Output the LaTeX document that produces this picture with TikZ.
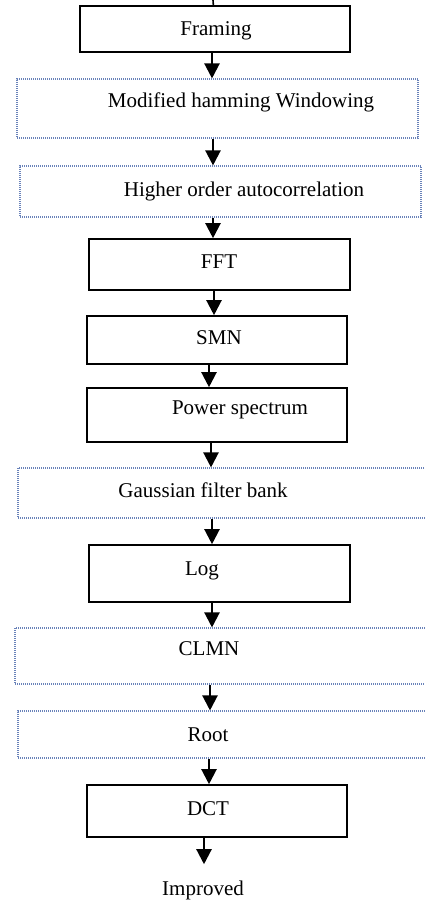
\documentclass[tikz,border=0pt]{standalone}
\usepackage{fontspec}
\setmainfont{Liberation Serif}
\usetikzlibrary{arrows.meta}
\usetikzlibrary{positioning}
\definecolor{dotblue}{RGB}{105,130,185}
\tikzstyle{block}=[draw,line width=1.6pt,inner sep=0pt]
\tikzstyle{dotblock}=[draw=dotblue,dash pattern=on 1pt off 1pt,line width=1.1pt,inner sep=0pt]
\tikzstyle{lbl}=[anchor=base,inner sep=0pt,font=\fontsize{21}{25}\selectfont]
\tikzstyle{arr}=[line width=2.2pt,-{Triangle[width=15pt,length=15pt]}]

\begin{document}
\begin{tikzpicture}[x=1pt,y=-1pt]
\useasboundingbox (0,0) rectangle (425,900);

% boxes of the chain
\node [block,minimum width=270pt,minimum height=46pt] (frm) at (215,29) {};
\node [dotblock,minimum width=401pt,minimum height=59pt] (ham) at (217.5,108.5) {};
\node [dotblock,minimum width=401pt,minimum height=51pt] (hoa) at (220.5,191.5) {};
\node [block,minimum width=261pt,minimum height=51pt] (fft) at (219.5,264.5) {};
\node [block,minimum width=260pt,minimum height=48pt] (smn) at (217,340) {};
\node [block,minimum width=260pt,minimum height=54pt] (pow) at (217,415) {};
\node [dotblock,minimum width=412pt,minimum height=50pt] (gfb) at (224,493) {};
\node [block,minimum width=261pt,minimum height=57pt] (log) at (219.5,573.5) {};
\node [dotblock,minimum width=415pt,minimum height=56pt] (clmn) at (222.5,656) {};
\node [dotblock,minimum width=412pt,minimum height=47pt] (root) at (224,734.5) {};
\node [block,minimum width=260pt,minimum height=52pt] (dct) at (217,811) {};

% texts
\node [lbl] (frm-t) at (216,35) {Framing};
\node [lbl] (ham-t) at (241,107) {Modified hamming Windowing};
\node [lbl] (hoa-t) at (244,196) {Higher order autocorrelation};
\node [lbl] (fft-t) at (219,268) {FFT};
\node [lbl] (smn-t) at (219,344) {SMN};
\node [lbl] (pow-t) at (240,414) {Power spectrum};
\node [lbl] (gfb-t) at (203,497) {Gaussian filter bank};
\node [lbl] (log-t) at (202,575) {Log};
\node [lbl] (clmn-t) at (209,655) {CLMN};
\node [lbl] (root-t) at (208,741) {Root};
\node [lbl] (dct-t) at (208,815) {DCT};
\node [lbl,inner ysep=16pt] (imp) at (203,895) {Improved};

% arrows
\coordinate (top) at (213,0);
\draw [line width=1.6pt] (top) -- (frm);
\foreach \a/\b/\x in {frm/ham/212,ham/hoa/213,hoa/fft/213,fft/smn/214,smn/pow/209,
    pow/gfb/211,gfb/log/212,log/clmn/212,clmn/root/210,root/dct/209,dct/imp/204}
  \draw [arr] (\a.south -| \x,0) -- (\b.north -| \x,0);
\end{tikzpicture}
\end{document}
